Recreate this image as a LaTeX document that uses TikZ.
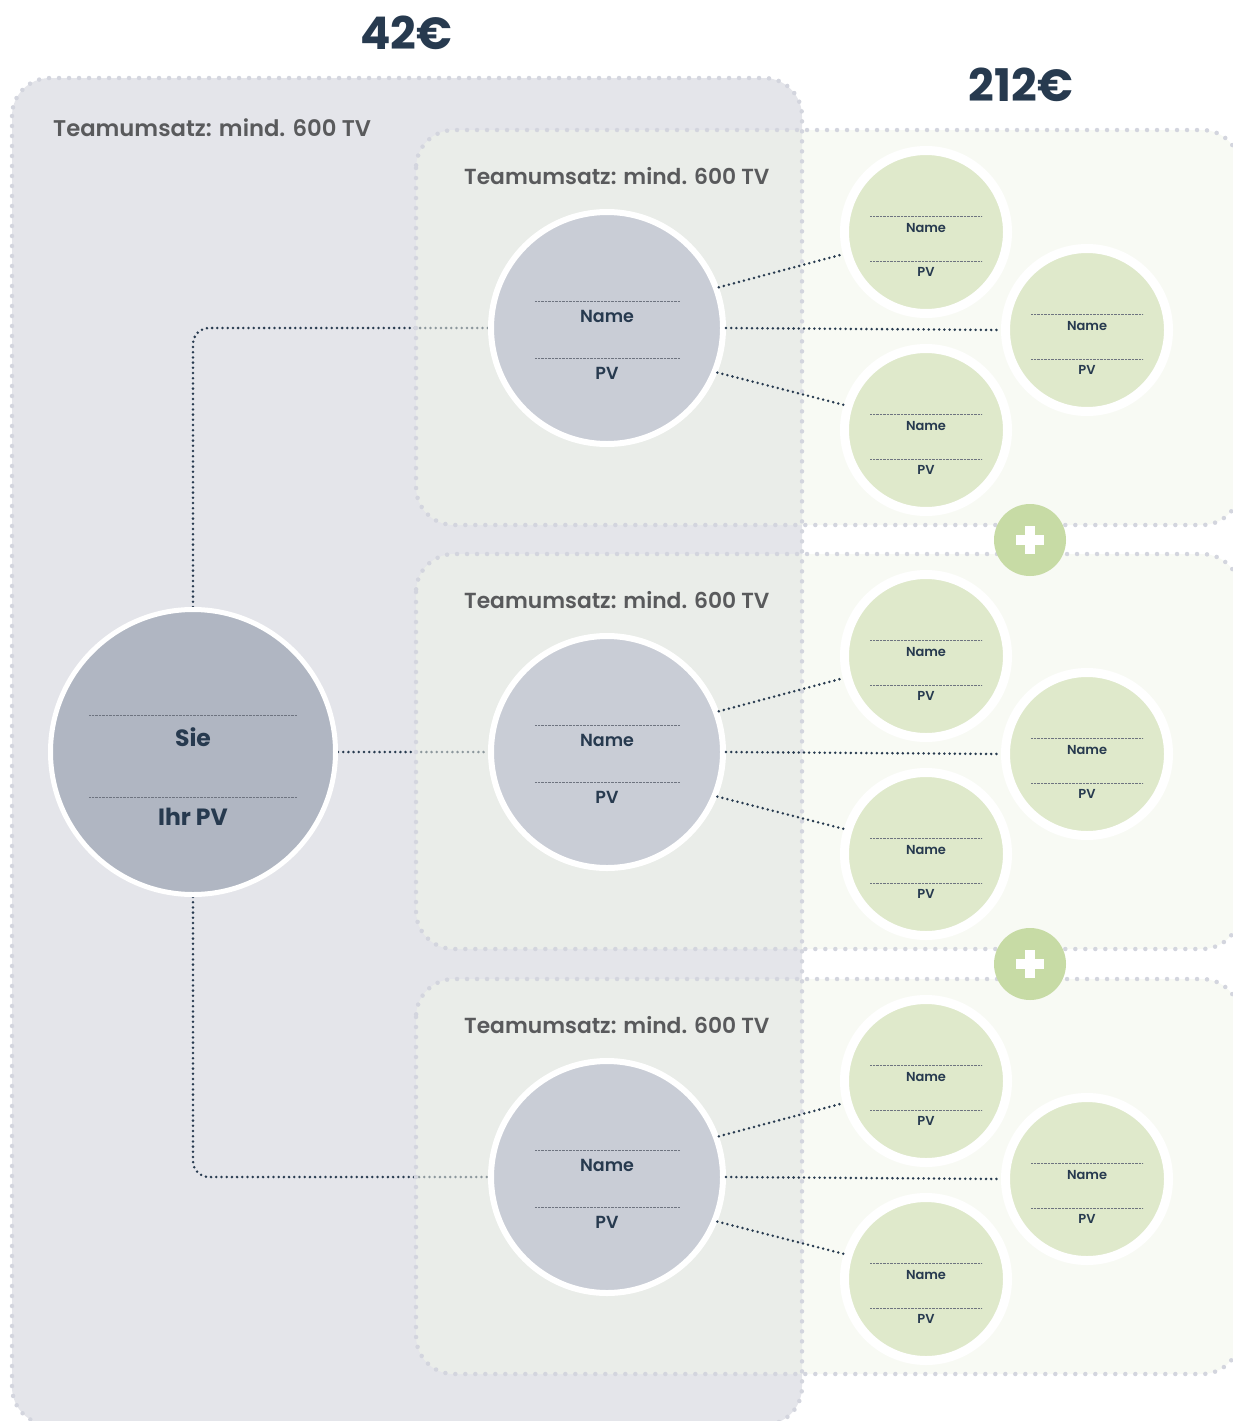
\documentclass[tikz,border=0pt]{standalone}
\usepackage{fontspec}
\setmainfont{Poppins}[BoldFont={Poppins SemiBold}]
\newfontfamily\gras{Poppins Bold}
\usetikzlibrary{calc}
\definecolor{marine}{HTML}{273A4F}
\definecolor{grisfonce}{HTML}{595A5C}
\definecolor{fondgris}{HTML}{E4E5EA}
\definecolor{voile}{HTML}{F1F5E9}
\definecolor{pointille}{HTML}{D3D5DE}
\definecolor{gristrait}{HTML}{6E7480}
\definecolor{gris1}{HTML}{B0B6C2}
\definecolor{gris2}{HTML}{C9CDD6}
\definecolor{vert1}{HTML}{DFE9CB}
\definecolor{vert2}{HTML}{C7DBA5}
\pgfdeclarelayer{fond}
\pgfdeclarelayer{liens}
\pgfdeclarelayer{cadres}
\pgfsetlayers{fond,liens,cadres,main}
\tikzset{
  cadre/.style={draw=pointille, rounded corners=38, line width=4.5pt, dash pattern=on 0pt off 10pt, line cap=round},
  lien/.style={draw=marine, line width=2.8pt, dash pattern=on 0pt off 5.2pt, line cap=round},
  trait/.style={draw=gristrait, line width=0.7pt, dash pattern=on 0.7pt off 0.7pt},
  sie/.style={circle, fill=gris1, draw=white, line width=5pt, minimum size=285pt, inner sep=0pt},
  chef/.style={circle, fill=gris2, draw=white, line width=6pt, minimum size=232pt, inner sep=0pt},
  membre/.style={circle, fill=vert1, draw=white, line width=9pt, minimum size=163pt, inner sep=0pt},
  plus/.style={circle, fill=vert2, minimum size=72pt, inner sep=0pt},
  titre/.style={font=\bfseries\fontsize{22.7}{27}\selectfont, text=grisfonce, anchor=west, inner sep=0pt},
  soustitre/.style={titre, font=\bfseries\fontsize{21.8}{26}\selectfont},
  prix/.style={font=\gras\fontsize{45}{50}\selectfont, text=marine, inner sep=0pt},
  grand/.style={font=\gras\fontsize{23.5}{28}\selectfont, text=marine, inner sep=0pt},
  moyen/.style={font=\bfseries\fontsize{17.5}{20}\selectfont, text=marine, inner sep=0pt},
  petit/.style={font=\bfseries\fontsize{13}{15}\selectfont, text=marine, inner sep=0pt}
}
\begin{document}
\begin{tikzpicture}[x=1pt,y=-1pt]
\useasboundingbox (0,0) rectangle (1232,1421);
\clip (0,0) rectangle (1232,1421);
\node[prix] (p42) at (406,33) {42€};
\node[prix] (p212) at (1021,85) {212€};
\begin{pgfonlayer}{fond}
  \fill[fondgris, rounded corners=38] (12,78) rectangle (802,1425);
\end{pgfonlayer}
\node[titre] (t0) at (53,128) {Teamumsatz: mind. 600 TV};
% Sie
\node[sie] (sie) at (193,752) {};
\draw[trait] (89,715) -- (297,715);
\draw[trait] (89,797) -- (297,797);
\node[grand] (sie-nom) at (193,737) {Sie};
\node[grand] (sie-pv) at (193,817) {Ihr PV};
% teams
\foreach \dy [count=\k] in {0,424,849} {
  \begin{pgfonlayer}{cadres}
    \fill[voile, fill opacity=0.5, rounded corners=38] (416,130+\dy) rectangle (1240,525+\dy);
  \end{pgfonlayer}
  \node[soustitre] (t\k) at (464,176+\dy) {Teamumsatz: mind. 600 TV};
  \node[chef] (m\k) at (607,328+\dy) {};
  \draw[trait] (535,301+\dy) -- (680,301+\dy);
  \draw[trait] (535,358+\dy) -- (680,358+\dy);
  \node[moyen] (m\k-nom) at (607,316+\dy) {Name};
  \node[moyen] (m\k-pv) at (607,373+\dy) {PV};
  \foreach \n/\x/\y in {a/926/232, b/1087/330, c/926/430} {
    \node[membre] (g\k\n) at (\x,\y+\dy) {};
    \draw[trait] (\x-56,\y+\dy-16) -- (\x+56,\y+\dy-16);
    \draw[trait] (\x-56,\y+\dy+29) -- (\x+56,\y+\dy+29);
    \node[petit] (g\k\n-nom) at (\x,\y+\dy-4) {Name};
    \node[petit] (g\k\n-pv) at (\x,\y+\dy+40) {PV};
  }
  \draw[lien] (m\k.20) -- (g\k a.195);
  \draw[lien] (m\k.east) -- (g\k b.west);
  \draw[lien] (m\k.338) -- (g\k c.163);
}
\begin{pgfonlayer}{cadres}
  \draw[cadre] (12,78) rectangle (802,1425);
  \foreach \dy in {0,424,849}
    \draw[cadre] (416,130+\dy) rectangle (1240,525+\dy);
\end{pgfonlayer}
% plus
\foreach \y [count=\k] in {540,964} {
  \node[plus] (plus\k) at (1030,\y) {};
  \fill[white] ($(plus\k)+(-14,-4.6)$) rectangle ($(plus\k)+(14,4.6)$);
  \fill[white] ($(plus\k)+(-4.6,-14)$) rectangle ($(plus\k)+(4.6,14)$);
}
% liens vers Sie
\begin{pgfonlayer}{liens}
  \draw[lien, rounded corners=16] (sie) |- (m1);
  \draw[lien] (sie) -- (m2);
  \draw[lien, rounded corners=16] (sie) |- (m3);
\end{pgfonlayer}
\end{tikzpicture}
\end{document}
